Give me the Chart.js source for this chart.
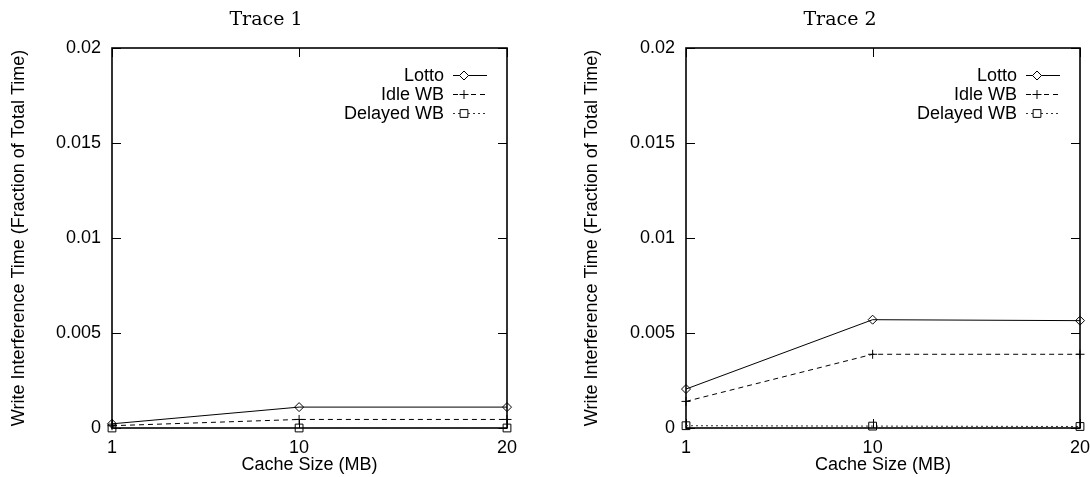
<!DOCTYPE html>
<html>
<head>
<meta charset="utf-8">
<script src="https://cdn.jsdelivr.net/npm/chart.js@4/dist/chart.umd.min.js"></script>
<style>
  body { margin: 0; background: #fff; }
  #wrap { position: relative; width: 1090px; height: 477px; }
  canvas { position: absolute; top: 0; }
</style>
</head>
<body>
<div id="wrap">
  <canvas id="trace1" width="545" height="477" style="left:0"></canvas>
  <canvas id="trace2" width="545" height="477" style="left:545px"></canvas>
</div>
<script>
// datos
const cacheSizes = [1, 10, 20];
const yTicks = [0, 0.005, 0.01, 0.015, 0.02];

const trace1Lotto = [0.00022, 0.0011, 0.0011];
const trace1Idle = [0.00012, 0.00045, 0.00045];
const trace1Delayed = [0, 0, 0];

const trace2Lotto = [0.00205, 0.0057, 0.00565];
const trace2Idle = [0.0014, 0.00388, 0.00388];
const trace2Delayed = [0.00012, 0.0001, 0.00008];

const seriesNames = ["Lotto", "Idle WB", "Delayed WB"];

const SANS = "'Liberation Sans', Arial, sans-serif";
Chart.defaults.font.family = SANS;
Chart.defaults.font.size = 18;
Chart.defaults.color = "#000";

function puntos(valores) {
  return cacheSizes.map((x, i) => ({ x: x, y: valores[i] }));
}

// marco y ticks hacia adentro, como gnuplot
const marcoPlugin = {
  id: "marco",
  beforeDatasetsDraw(chart) {
    const { ctx, chartArea: a, scales } = chart;
    ctx.save();
    ctx.strokeStyle = "#000";
    ctx.lineWidth = 1;
    ctx.beginPath();
    scales.y.ticks.forEach(t => {
      const y = Math.round(scales.y.getPixelForValue(t.value)) + 0.5;
      ctx.moveTo(a.left, y); ctx.lineTo(a.left + 9, y);
      ctx.moveTo(a.right, y); ctx.lineTo(a.right - 9, y);
    });
    scales.x.ticks.forEach(t => {
      const x = Math.round(scales.x.getPixelForValue(t.value)) + 0.5;
      ctx.moveTo(x, a.bottom); ctx.lineTo(x, a.bottom - 9);
      ctx.moveTo(x, a.top); ctx.lineTo(x, a.top + 9);
    });
    ctx.stroke();
    ctx.lineWidth = 1.6;
    ctx.strokeRect(Math.round(a.left), Math.round(a.top), Math.round(a.right - a.left), Math.round(a.bottom - a.top));
    ctx.restore();
  }
};

// titulo en serif, centrado donde lo pone gnuplot
const tituloPlugin = {
  id: "tituloGnu",
  afterDraw(chart, args, opts) {
    const ctx = chart.ctx;
    ctx.save();
    ctx.font = "19px 'DejaVu Serif', 'Liberation Serif', serif";
    ctx.fillStyle = "#000";
    ctx.textAlign = "center";
    ctx.textBaseline = "middle";
    ctx.fillText(opts.text, opts.x, 20);
    ctx.restore();
  }
};

// leyenda estilo gnuplot: texto a la derecha, luego la muestra
const leyendaPlugin = {
  id: "leyendaGnu",
  afterDraw(chart) {
    const { ctx, chartArea: a } = chart;
    ctx.save();
    ctx.font = "18px " + SANS;
    ctx.textAlign = "right";
    ctx.textBaseline = "middle";
    chart.data.datasets.forEach((ds, i) => {
      const y = 75 + i * 19;
      ctx.fillStyle = "#000";
      ctx.fillText(ds.label, a.right - 63, y + 1);
      ctx.strokeStyle = ds.borderColor;
      ctx.lineWidth = 1;
      ctx.setLineDash(ds.borderDash || []);
      ctx.beginPath();
      ctx.moveTo(a.right - 54, y + 0.5);
      ctx.lineTo(a.right - 20, y + 0.5);
      ctx.stroke();
      ctx.setLineDash([]);
      ctx.strokeStyle = "#000";
      ctx.fillStyle = "#fff";
      Chart.helpers.drawPoint(ctx, {
        pointStyle: ds.pointStyle, radius: ds.pointRadius, rotation: 0, borderWidth: 1
      }, a.right - 43, y + 0.5);
    });
    ctx.restore();
  }
};

function crearGrafico(id, titulo, tituloX, lotto, idle, delayed, anchoEjeY, padDerecho, padTituloY) {
  const ctx = document.getElementById(id).getContext("2d");
  return new Chart(ctx, {
    type: "line",
    data: {
      datasets: [
        {
          label: seriesNames[0], data: puntos(lotto),
          borderColor: "#000", borderWidth: 1, pointStyle: "rectRot", pointRadius: 4.5,
          pointBorderColor: "#000", pointBackgroundColor: "rgba(0,0,0,0)", pointBorderWidth: 1,
          clip: false
        },
        {
          label: seriesNames[1], data: puntos(idle),
          borderColor: "#000", borderWidth: 1, borderDash: [5, 4], pointStyle: "cross", pointRadius: 4.5,
          pointBorderColor: "#000", pointBorderWidth: 1,
          clip: false
        },
        {
          label: seriesNames[2], data: puntos(delayed),
          borderColor: "#333", borderWidth: 1, borderDash: [2, 3], pointStyle: "rect", pointRadius: 5.5,
          pointBorderColor: "#000", pointBackgroundColor: "rgba(0,0,0,0)", pointBorderWidth: 1,
          clip: false
        }
      ]
    },
    options: {
      responsive: false,
      animation: false,
      devicePixelRatio: 1,
      layout: { padding: { left: 0, right: padDerecho, top: 48, bottom: 0 } },
      plugins: {
        legend: { display: false },
        tooltip: { enabled: false },
        title: { display: false },
        tituloGnu: { text: titulo, x: tituloX }
      },
      scales: {
        x: {
          type: "linear", min: 1, max: 20,
          grid: { display: false, drawTicks: false },
          border: { display: false },
          afterBuildTicks: s => { s.ticks = cacheSizes.map(v => ({ value: v })); },
          afterFit: s => { s.height = 49; s.paddingLeft = 0; s.paddingRight = 0; },
          ticks: { autoSkip: false, maxRotation: 0, padding: 9, callback: v => String(v) },
          title: { display: true, text: "Cache Size (MB)", padding: { top: 0, bottom: 1.2 } }
        },
        y: {
          min: 0, max: 0.02,
          grid: { display: false, drawTicks: false },
          border: { display: false },
          afterBuildTicks: s => { s.ticks = yTicks.map(v => ({ value: v })); },
          afterFit: s => { s.width = anchoEjeY; },
          ticks: { padding: 11, callback: v => v === 0 ? "0" : String(parseFloat(v.toFixed(3))) },
          title: {
            display: true, text: "Write Interference Time (Fraction of Total Time)",
            padding: { top: padTituloY, bottom: 0 }
          }
        }
      }
    },
    plugins: [marcoPlugin, leyendaPlugin, tituloPlugin]
  });
}

crearGrafico("trace1", "Trace 1", 266, trace1Lotto, trace1Idle, trace1Delayed, 112, 38, 8);
crearGrafico("trace2", "Trace 2", 295, trace2Lotto, trace2Idle, trace2Delayed, 141, 10, 36);
</script>
</body>
</html>
